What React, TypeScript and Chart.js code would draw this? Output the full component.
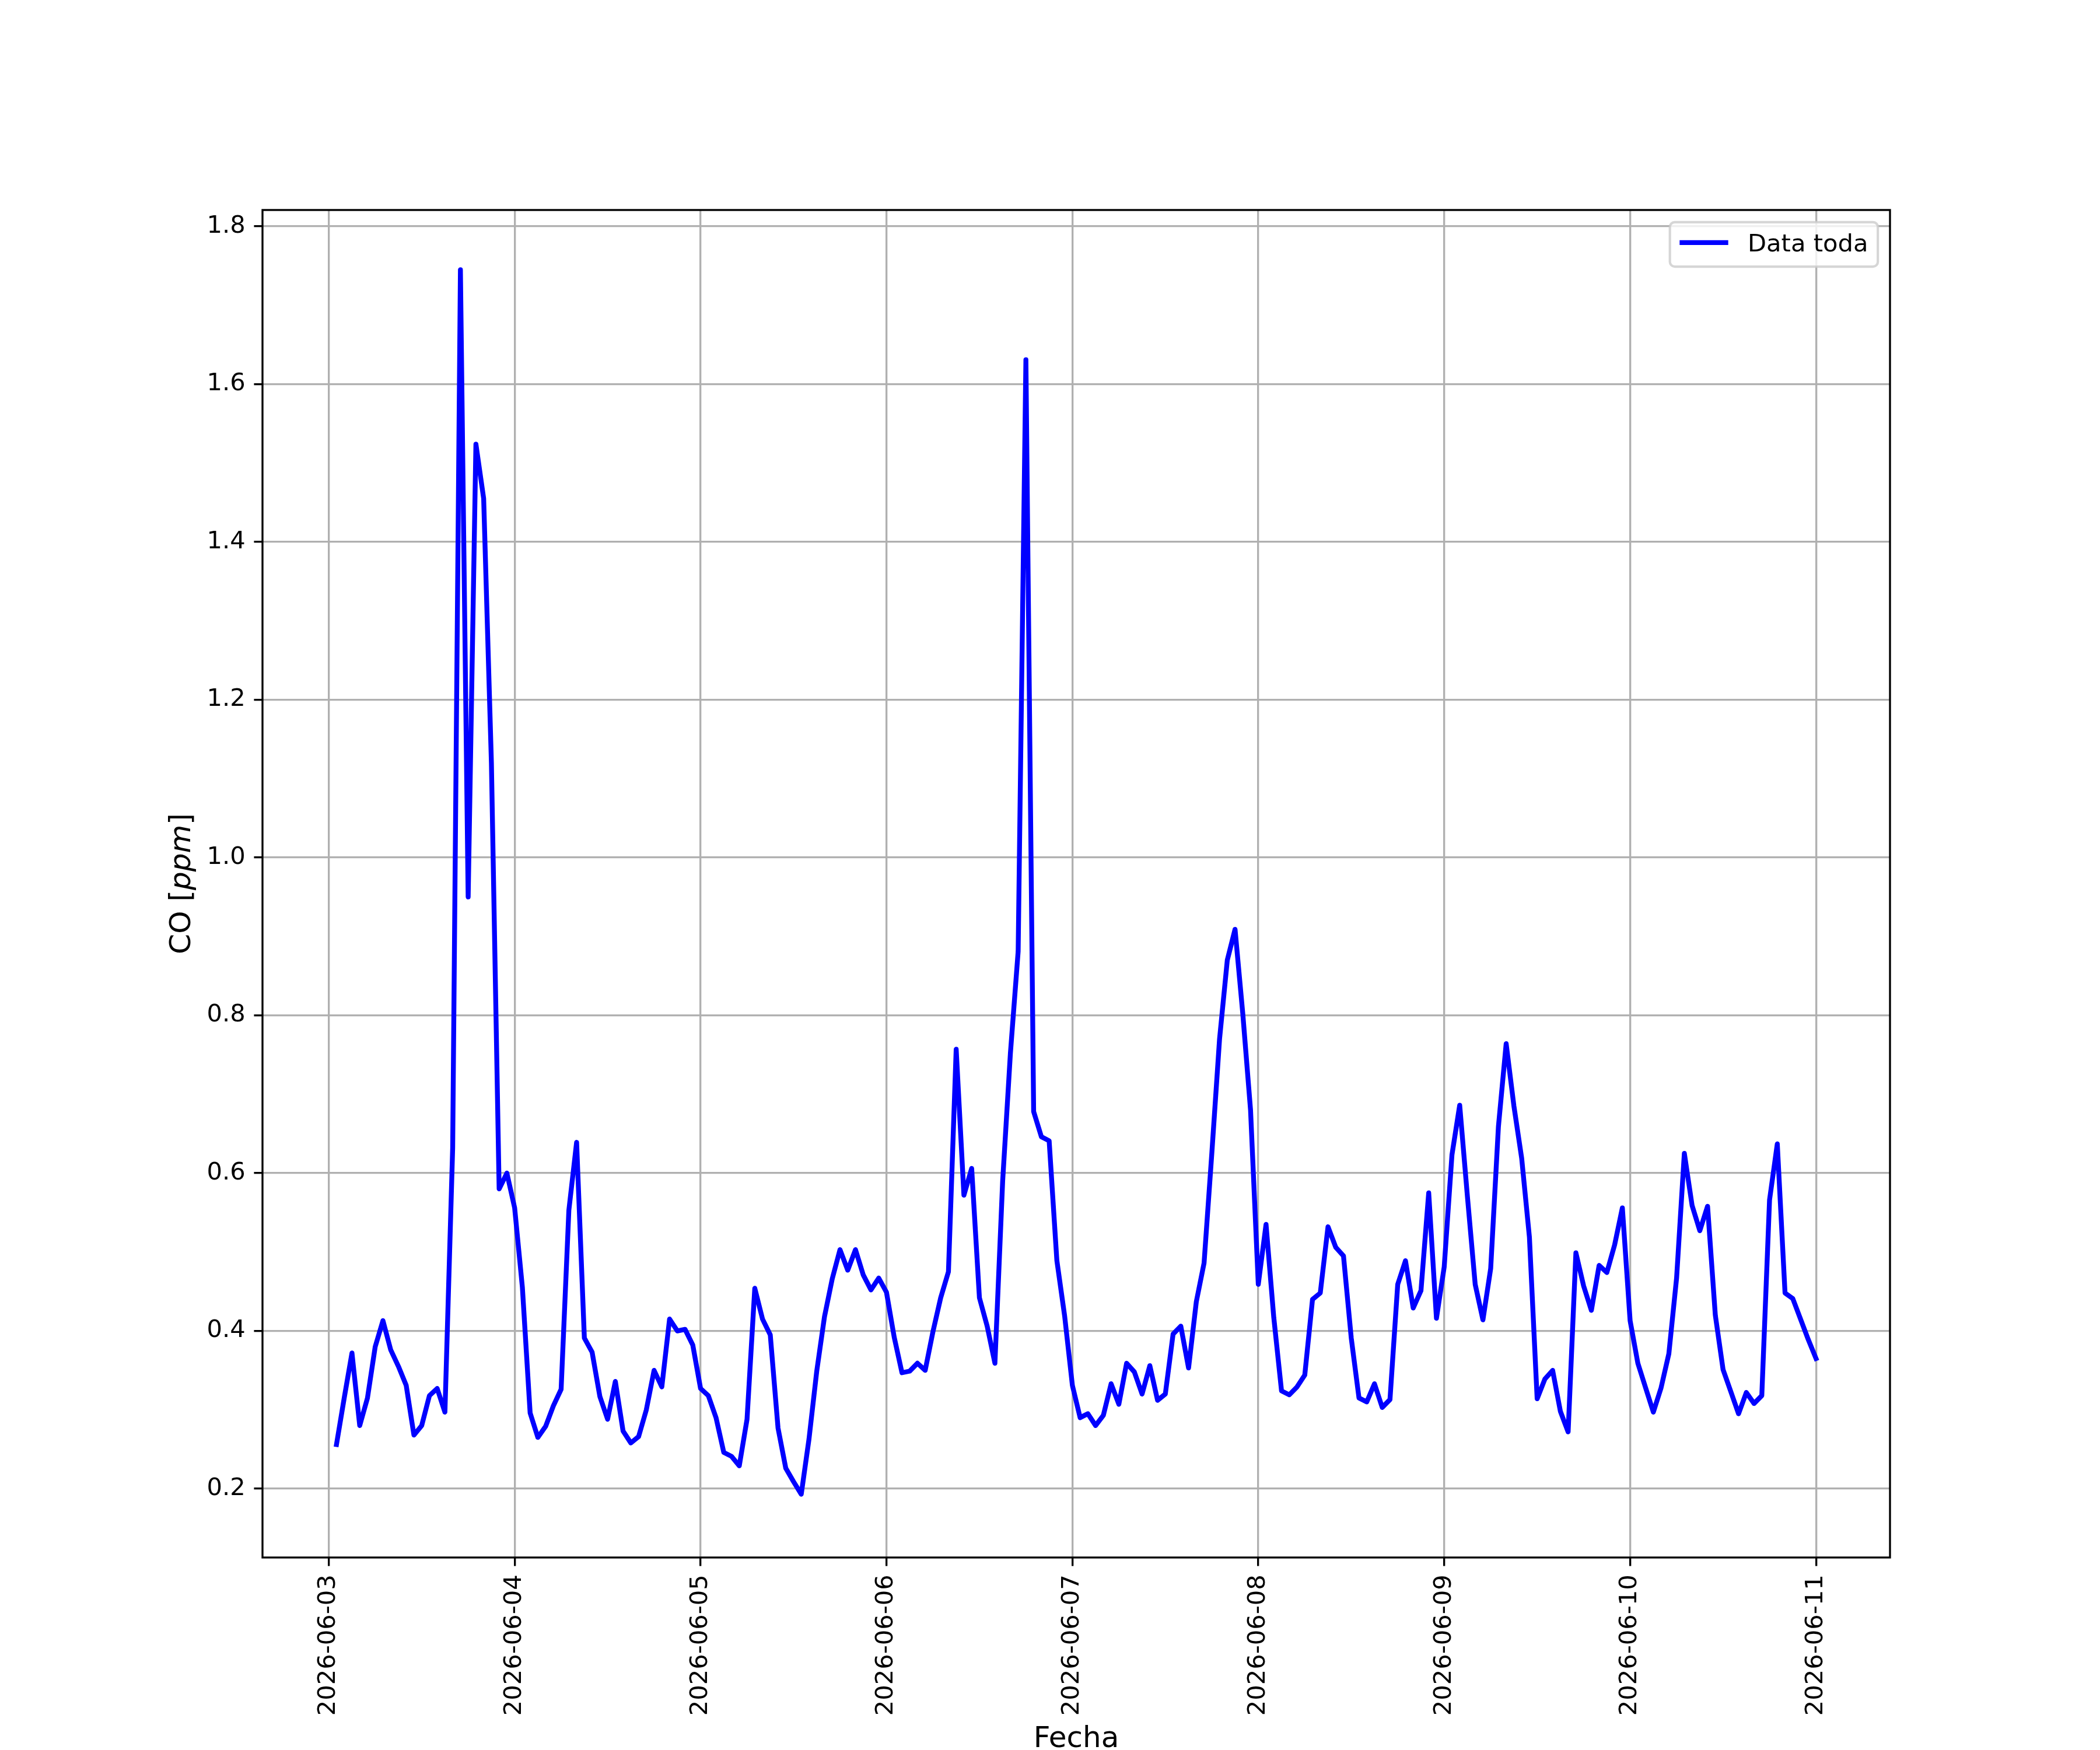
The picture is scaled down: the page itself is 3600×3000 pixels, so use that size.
import React, { useEffect, useRef } from 'react';
import { Chart, registerables } from 'chart.js';

Chart.register(...registerables);

// hourly CO readings, one array per day (hours since 2026-06-03 00:00)
const firstHour = 1;
const coJun03 = [0.256, 0.315, 0.372, 0.28, 0.315, 0.38, 0.413, 0.376, 0.355, 0.331, 0.268, 0.28, 0.318, 0.327, 0.297, 0.632, 1.745, 0.95, 1.524, 1.455, 1.12, 0.58, 0.6];
const coJun04 = [0.556, 0.455, 0.296, 0.265, 0.279, 0.305, 0.326, 0.553, 0.639, 0.391, 0.373, 0.317, 0.288, 0.336, 0.273, 0.258, 0.266, 0.3, 0.35, 0.329, 0.415, 0.4, 0.402, 0.382];
const coJun05 = [0.327, 0.318, 0.29, 0.246, 0.241, 0.229, 0.288, 0.454, 0.415, 0.395, 0.277, 0.226, 0.209, 0.193, 0.263, 0.349, 0.418, 0.466, 0.503, 0.477, 0.503, 0.471, 0.452, 0.467];
const coJun06 = [0.449, 0.392, 0.347, 0.349, 0.359, 0.35, 0.399, 0.442, 0.475, 0.757, 0.572, 0.606, 0.442, 0.406, 0.359, 0.59, 0.752, 0.881, 1.631, 0.678, 0.646, 0.641, 0.489, 0.419];
const coJun07 = [0.331, 0.29, 0.295, 0.28, 0.293, 0.333, 0.307, 0.359, 0.348, 0.32, 0.356, 0.312, 0.32, 0.396, 0.406, 0.353, 0.437, 0.486, 0.625, 0.77, 0.87, 0.909, 0.802, 0.68];
const coJun08 = [0.459, 0.535, 0.417, 0.324, 0.319, 0.329, 0.344, 0.44, 0.448, 0.532, 0.506, 0.495, 0.391, 0.315, 0.31, 0.333, 0.303, 0.313, 0.459, 0.489, 0.429, 0.451, 0.575, 0.416];
const coJun09 = [0.481, 0.623, 0.686, 0.57, 0.459, 0.414, 0.479, 0.659, 0.764, 0.685, 0.619, 0.519, 0.314, 0.339, 0.35, 0.298, 0.272, 0.499, 0.457, 0.426, 0.483, 0.474, 0.509, 0.556];
const coJun10 = [0.413, 0.359, 0.328, 0.297, 0.328, 0.371, 0.467, 0.625, 0.559, 0.527, 0.558, 0.42, 0.351, 0.323, 0.295, 0.322, 0.308, 0.318, 0.566, 0.637, 0.448, 0.441, 0.415, 0.389];
const coJun11 = [0.365];

const dayTicks = ['2026-06-03', '2026-06-04', '2026-06-05', '2026-06-06', '2026-06-07', '2026-06-08', '2026-06-09', '2026-06-10', '2026-06-11'];
const yTicks = [0.2, 0.4, 0.6, 0.8, 1.0, 1.2, 1.4, 1.6, 1.8];
const seriesLabel = 'Data toda';

const coValues = [...coJun03, ...coJun04, ...coJun05, ...coJun06, ...coJun07, ...coJun08, ...coJun09, ...coJun10, ...coJun11];

const PT = 300 / 72;
const FAMILY = '"DejaVu Sans", sans-serif';

// spines, axis labels and a matplotlib-style legend
const mplPlugin = {
    id: 'mplDecor',
    afterDatasetsDraw(chart: any) {
        const { ctx, chartArea: a } = chart;
        ctx.save();
        ctx.strokeStyle = '#000';
        ctx.lineWidth = 0.8 * PT;
        ctx.strokeRect(a.left, a.top, a.right - a.left, a.bottom - a.top);
        ctx.restore();
    },
    afterDraw(chart: any) {
        const { ctx, chartArea: a } = chart;
        const lf = 12 * PT;
        ctx.save();
        ctx.fillStyle = '#000';
        ctx.textBaseline = 'alphabetic';

        // x label
        ctx.font = `${lf}px ${FAMILY}`;
        ctx.textAlign = 'center';
        ctx.fillText('Fecha', (a.left + a.right) / 2, a.bottom + 325);

        // y label with italic unit
        const parts = [
            { t: 'CO [', f: `${lf}px ${FAMILY}` },
            { t: 'ppm', f: `italic ${lf}px ${FAMILY}` },
            { t: ']', f: `${lf}px ${FAMILY}` },
        ];
        let total = 0;
        parts.forEach((p) => {
            ctx.font = p.f;
            total += ctx.measureText(p.t).width;
        });
        ctx.translate(a.left - 124, (a.top + a.bottom) / 2);
        ctx.rotate(-Math.PI / 2);
        ctx.textAlign = 'left';
        let x = -total / 2;
        parts.forEach((p) => {
            ctx.font = p.f;
            ctx.fillText(p.t, x, 0);
            x += ctx.measureText(p.t).width;
        });
        ctx.restore();

        // legend
        const fs = 10 * PT;
        const ds = chart.data.datasets[0];
        ctx.save();
        ctx.font = `${fs}px ${FAMILY}`;
        const tw = ctx.measureText(ds.label).width;
        const pad = 0.4 * fs;
        const hl = 2 * fs;
        const htp = 0.8 * fs;
        const w = 2 * pad + hl + htp + tw;
        const h = 2 * pad + 1.03 * fs;
        const right = a.right - 0.5 * fs;
        const top = a.top + 0.5 * fs;
        const left = right - w;
        const r = 0.2 * fs;
        ctx.beginPath();
        ctx.moveTo(left + r, top);
        ctx.arcTo(right, top, right, top + h, r);
        ctx.arcTo(right, top + h, left, top + h, r);
        ctx.arcTo(left, top + h, left, top, r);
        ctx.arcTo(left, top, right, top, r);
        ctx.closePath();
        ctx.fillStyle = 'rgba(255,255,255,0.8)';
        ctx.fill();
        ctx.strokeStyle = 'rgba(204,204,204,0.8)';
        ctx.lineWidth = 1.0 * PT;
        ctx.stroke();

        ctx.beginPath();
        ctx.moveTo(left + pad, top + 35);
        ctx.lineTo(left + pad + hl, top + 35);
        ctx.strokeStyle = ds.borderColor;
        ctx.lineWidth = ds.borderWidth;
        ctx.stroke();

        ctx.fillStyle = '#000';
        ctx.textAlign = 'left';
        ctx.textBaseline = 'alphabetic';
        ctx.fillText(ds.label, left + pad + hl + htp, top + 50);
        ctx.restore();
    },
};

const App: React.FC = () => {
    const canvasRef = useRef<HTMLCanvasElement | null>(null);

    useEffect(() => {
        document.body.style.margin = '0';
        if (!canvasRef.current) return;
        const tickFont = { family: FAMILY, size: 10 * PT };
        const grid = {
            color: '#b0b0b0',
            lineWidth: 0.8 * PT,
            tickLength: 3.5 * PT,
            tickColor: '#000',
            tickWidth: 0.8 * PT,
            drawTicks: true,
        };
        const chart = new Chart(canvasRef.current, {
            type: 'line',
            data: {
                datasets: [
                    {
                        label: seriesLabel,
                        data: coValues.map((v, i) => ({ x: firstHour + i, y: v })),
                        borderColor: '#0000ff',
                        borderWidth: 2 * PT,
                        borderJoinStyle: 'round',
                        borderCapStyle: 'square',
                        pointRadius: 0,
                        tension: 0,
                        fill: false,
                    },
                ],
            },
            options: {
                animation: false,
                responsive: false,
                devicePixelRatio: 1,
                layout: { padding: { top: 360, right: 360, bottom: 0, left: 0 } },
                plugins: { legend: { display: false }, tooltip: { enabled: false } },
                scales: {
                    x: {
                        type: 'linear',
                        min: -8.55,
                        max: 201.55,
                        afterBuildTicks: (s: any) => {
                            s.ticks = dayTicks.map((_, k) => ({ value: 24 * k }));
                        },
                        afterFit: (s: any) => {
                            s.height = 330;
                        },
                        ticks: {
                            autoSkip: false,
                            minRotation: 90,
                            maxRotation: 90,
                            padding: 3.5 * PT,
                            color: '#000',
                            font: tickFont,
                            callback: (_v: any, i: number) => dayTicks[i],
                        },
                        grid,
                        border: { display: false },
                    },
                    y: {
                        type: 'linear',
                        min: 0.1128,
                        max: 1.8207,
                        afterBuildTicks: (s: any) => {
                            s.ticks = yTicks.map((v) => ({ value: v }));
                        },
                        afterFit: (s: any) => {
                            s.width = 450;
                        },
                        ticks: {
                            padding: 3.5 * PT,
                            color: '#000',
                            font: tickFont,
                            callback: (v: any) => Number(v).toFixed(1),
                        },
                        grid,
                        border: { display: false },
                    },
                },
            },
            plugins: [mplPlugin],
        } as any);
        return () => {
            chart.destroy();
        };
    }, []);

    return (
        <div style={{ width: 3600, height: 3000, background: '#fff' }}>
            <canvas ref={canvasRef} width={3600} height={3000} style={{ display: 'block', width: 3600, height: 3000 }}></canvas>
        </div>
    );
};

export default App;
